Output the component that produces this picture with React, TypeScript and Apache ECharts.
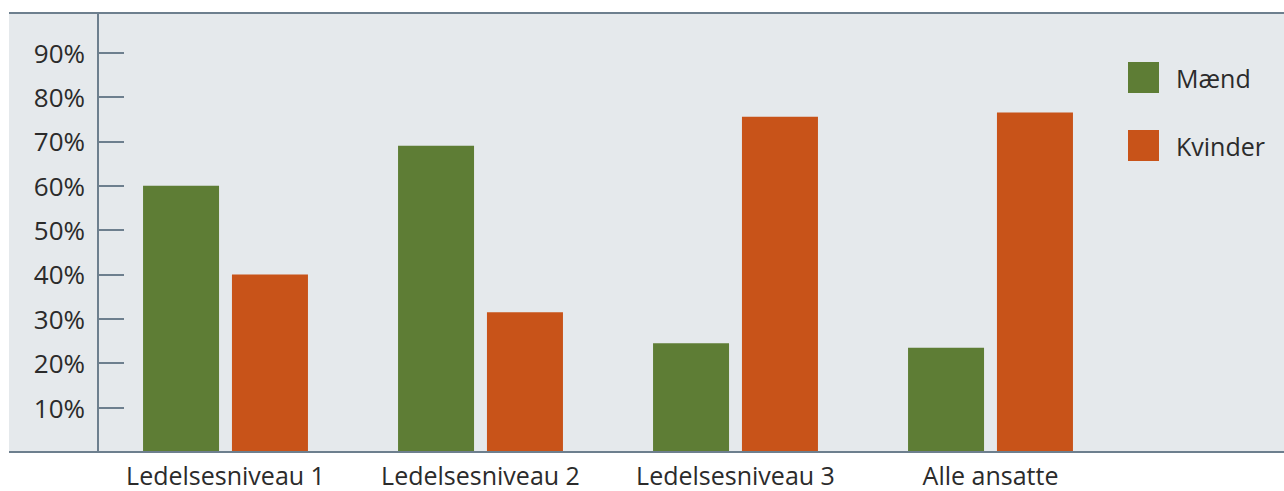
import React, { useEffect, useRef } from "react";
import * as echarts from "echarts";

const categories = ["Ledelsesniveau 1", "Ledelsesniveau 2", "Ledelsesniveau 3", "Alle ansatte"];
const seriesNames = ["Mænd", "Kvinder"];
const maend = [60, 69, 24.5, 23.5];
const kvinder = [40, 31.5, 75.5, 76.5];
const yTicks = [10, 20, 30, 40, 50, 60, 70, 80, 90];

const GREEN = "#5e7d35";
const ORANGE = "#c85319";
const BG = "#e5e9ec";
const AXIS = "#6d7f8e";
const TEXT = "#2b2b2b";
const FONT = "'Open Sans', sans-serif";

export default function App() {
  const ref = useRef<HTMLDivElement>(null);
  useEffect(() => {
    if (!ref.current) return;
    const chart = echarts.init(ref.current, null, { renderer: "svg" });
    chart.setOption({
      animation: false,
      backgroundColor: "#ffffff",
      textStyle: { fontFamily: FONT },
      grid: { left: 98, right: 166, top: 13, bottom: 39, containLabel: false },
      graphic: [
        { type: "rect", z: -10, silent: true, shape: { x: 9, y: 13, width: 1275, height: 439 }, style: { fill: BG } },
        { type: "line", z: 100, silent: true, shape: { x1: 9, y1: 13, x2: 1284, y2: 13 }, style: { stroke: AXIS, lineWidth: 2 } },
        { type: "line", z: 100, silent: true, shape: { x1: 9, y1: 452, x2: 1284, y2: 452 }, style: { stroke: AXIS, lineWidth: 2 } },
      ],
      legend: {
        orient: "vertical",
        left: 1128,
        top: 62,
        padding: 0,
        itemWidth: 31,
        itemHeight: 31,
        itemGap: 37,
        icon: "rect",
        data: seriesNames,
        textStyle: { fontSize: 25, color: TEXT, fontFamily: FONT, padding: [0, 0, 0, 12] },
      },
      xAxis: {
        type: "category",
        data: categories,
        axisLine: { show: false },
        axisTick: { show: false },
        axisLabel: { interval: 0, fontSize: 25, lineHeight: 20, color: TEXT, margin: 13, fontFamily: FONT },
      },
      yAxis: {
        type: "value",
        min: 0,
        max: 98.9,
        interval: 10,
        axisLine: { show: true, lineStyle: { color: AXIS, width: 2 } },
        axisTick: { show: true, inside: true, length: 26, lineStyle: { color: AXIS, width: 2 } },
        splitLine: { show: false },
        axisLabel: {
          fontSize: 26,
          color: TEXT,
          margin: 13,
          fontFamily: FONT,
          formatter: (v: number) => {
            const r = Math.round(v);
            return Math.abs(v - r) < 0.01 && yTicks.includes(r) ? r + "%" : "";
          },
        },
      },
      series: [
        { name: seriesNames[0], type: "bar", data: maend, barWidth: 76, barGap: "17%", itemStyle: { color: GREEN } },
        { name: seriesNames[1], type: "bar", data: kvinder, barWidth: 76, barGap: "17%", itemStyle: { color: ORANGE } },
      ],
    });
    return () => chart.dispose();
  }, []);
  return (
    <div
      ref={ref}
      style={{ position: "fixed", left: 0, top: 0, width: 1284, height: 491 }}
    />
  );
}
